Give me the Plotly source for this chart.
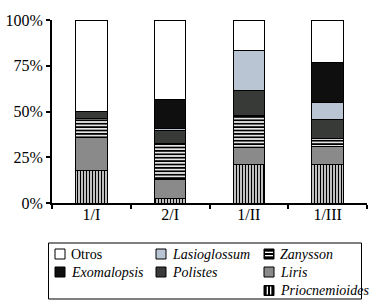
import plotly.graph_objects as go

categories = ["1/I", "2/I", "1/II", "1/III"]

priocnemioides = [18, 2.5, 21, 21]
liris = [18, 10.5, 9.5, 10]
zanysson = [10, 19.5, 17.5, 4]
polistes = [4, 7, 13.5, 10.5]
lasioglossum = [0, 1, 22, 9.5]
exomalopsis = [0, 16, 0, 22]
otros = [50, 43.5, 16.5, 23]

y_ticks = [0, 25, 50, 75, 100]
y_tick_labels = ["0%", "25%", "50%", "75%", "100%"]

PRIO_PAT = dict(shape="|", fgcolor="black", bgcolor="white", size=3, solidity=0.5, fillmode="replace")
ZANY_PAT = dict(shape="-", fgcolor="black", bgcolor="white", size=3.4, solidity=0.55, fillmode="replace")

# name, values, colour, pattern, legend column, legend row, legend kind
series = [
    ("<i>Priocnemioides</i>", priocnemioides, "white", PRIO_PAT, 2, 2, "vlines"),
    ("<i>Liris</i>", liris, "#8a8a8a", None, 2, 1, "solid"),
    ("<i>Zanysson</i>", zanysson, "white", ZANY_PAT, 2, 0, "hlines"),
    ("<i>Polistes</i>", polistes, "#383a38", None, 1, 1, "solid"),
    ("<i>Lasioglossum</i>", lasioglossum, "#b9c5d2", None, 1, 0, "solid"),
    ("<i>Exomalopsis</i>", exomalopsis, "#0f0f10", None, 0, 1, "solid"),
    ("Otros", otros, "white", None, 0, 0, "solid"),
]

W, H = 380, 306
ML, MR, MT, MB = 52, 13, 20, 103
PW, PH = W - ML - MR, H - MT - MB


def px_x(x):
    return (x - ML) / PW


def px_y(y):
    return (H - MB - y) / PH


fig = go.Figure()
for name, vals, color, pattern, *_ in series:
    marker = dict(color=color, line=dict(color="black", width=1))
    if pattern:
        marker["pattern"] = pattern
    fig.add_trace(go.Bar(x=categories, y=vals, name=name, marker=marker, showlegend=False))

font = "Liberation Serif, Times New Roman, serif"

# manual legend (three columns, as in the reference)
col_swatch_x = [55, 156, 264]
col_text_x = [69, 170, 278]
row_y = [254, 272, 290.5]
sw = 10
shapes = [dict(type="rect", xref="paper", yref="paper", x0=px_x(48.5), x1=px_x(361.5),
               y0=px_y(299), y1=px_y(243), line=dict(color="black", width=1),
               fillcolor="rgba(0,0,0,0)")]
annotations = []
for name, vals, color, pattern, col, row, kind in series:
    x0 = col_swatch_x[col]
    yc = row_y[row]
    y0, y1 = yc - sw / 2, yc + sw / 2
    fill = color if kind == "solid" else "black"
    shapes.append(dict(type="rect", xref="paper", yref="paper", x0=px_x(x0), x1=px_x(x0 + sw),
                       y0=px_y(y1), y1=px_y(y0), line=dict(color="black", width=1), fillcolor=fill))
    if kind == "hlines":
        for k in (1, 2):
            yy = y0 + k * sw / 3
            shapes.append(dict(type="line", xref="paper", yref="paper", x0=px_x(x0 + 1), x1=px_x(x0 + sw - 1),
                               y0=px_y(yy), y1=px_y(yy), line=dict(color="white", width=1.3)))
    if kind == "vlines":
        for k in (1, 2):
            xx = x0 + k * sw / 3
            shapes.append(dict(type="line", xref="paper", yref="paper", x0=px_x(xx), x1=px_x(xx),
                               y0=px_y(y0 + 1), y1=px_y(y1 - 1), line=dict(color="white", width=1.3)))
    annotations.append(dict(text=name, xref="paper", yref="paper", x=px_x(col_text_x[col]), y=px_y(yc),
                            xanchor="left", yanchor="middle", showarrow=False,
                            font=dict(family=font, size=14, color="black")))

fig.update_layout(
    width=W, height=H,
    margin=dict(l=ML, r=MR, t=MT, b=MB, autoexpand=False),
    barmode="stack",
    bargap=0.6,
    showlegend=False,
    plot_bgcolor="white", paper_bgcolor="white",
    font=dict(family=font, size=15, color="black"),
    shapes=shapes,
    annotations=annotations,
)
fig.update_xaxes(showline=True, linecolor="black", linewidth=2, ticks="outside", tickson="boundaries",
                 ticklen=4, tickwidth=2, tickcolor="black", showgrid=False, ticklabelstandoff=-4,
                 tickfont=dict(family=font, size=16))
fig.update_yaxes(range=[0, 100], tickvals=y_ticks, ticktext=y_tick_labels, showline=True, linecolor="black",
                 linewidth=2, ticks="outside", ticklen=4, tickwidth=2, tickcolor="black", showgrid=False,
                 zeroline=False, tickfont=dict(family=font, size=16))

fig.write_html("out.html", config={"displayModeBar": False},
               post_script="document.body.style.margin='0';")
